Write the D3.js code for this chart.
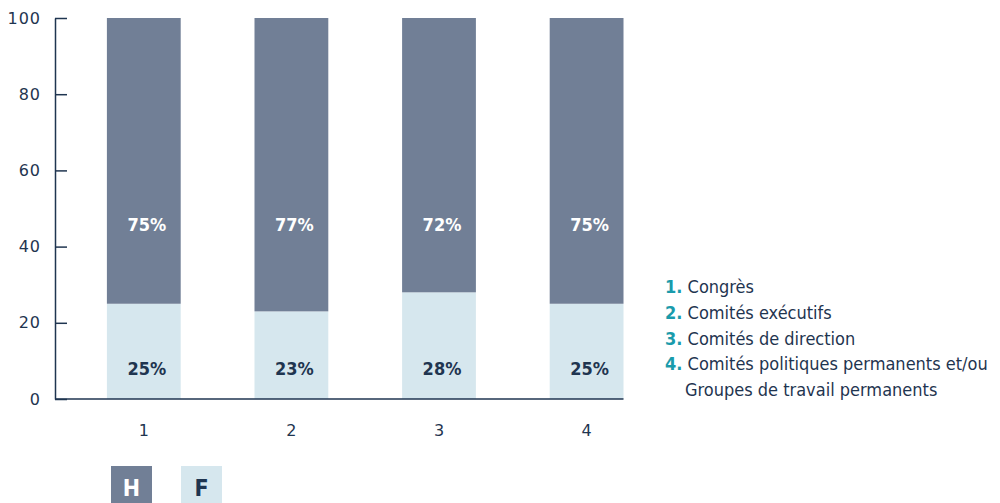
<!DOCTYPE html>
<html>
<head>
<meta charset="utf-8">
<script src="https://cdn.jsdelivr.net/npm/d3@7"></script>
<style>
body { margin: 0; background: #fff; }
svg { display: block; }
</style>
</head>
<body>
<div id="chart"></div>
<script>
var categories = ["1", "2", "3", "4"];
var hommes = [75, 77, 72, 75];
var femmes = [25, 23, 28, 25];
var yTicks = [0, 20, 40, 60, 80, 100];
var legendItems = ["Congrès", "Comités exécutifs", "Comités de direction", "Comités politiques permanents et/ou"];
var legendExtra = "Groupes de travail permanents";

var darkCol = "#717f96", lightCol = "#d6e7ee", navy = "#1f3550", teal = "#1a9bab";
var condensed = "'Liberation Sans Narrow', 'DejaVu Sans Condensed', sans-serif";

var width = 1000, height = 503;
var margin = {top: 18, left: 55};
var plotW = 570, plotH = 381;

var svg = d3.select("#chart").append("svg")
  .attr("width", width)
  .attr("height", height);

var g = svg.append("g")
  .attr("transform", "translate(" + margin.left + "," + margin.top + ")");

var x = d3.scaleBand()
  .domain(categories)
  .range([15, 15 + 147.6 * 4])
  .paddingInner(0.5)
  .paddingOuter(0.25);

var y = d3.scaleLinear()
  .domain([0, 100])
  .range([plotH, 0]);

// bars: femmes at bottom, hommes stacked on top
var data = categories.map(function(c, i) { return {cat: c, h: hommes[i], f: femmes[i]}; });

g.selectAll(".barF").data(data).enter().append("rect")
  .attr("x", function(d) { return x(d.cat); })
  .attr("y", function(d) { return y(d.f); })
  .attr("width", x.bandwidth())
  .attr("height", function(d) { return y(0) - y(d.f); })
  .style("fill", lightCol);

g.selectAll(".barH").data(data).enter().append("rect")
  .attr("x", function(d) { return x(d.cat); })
  .attr("y", function(d) { return y(d.f + d.h); })
  .attr("width", x.bandwidth())
  .attr("height", function(d) { return y(d.f) - y(d.f + d.h); })
  .style("fill", darkCol);

// percent labels
g.selectAll(".lblH").data(data).enter().append("text")
  .attr("x", function(d) { return x(d.cat) + x.bandwidth() / 2 + 3; })
  .attr("y", y(44))
  .attr("text-anchor", "middle")
  .style("font-family", condensed)
  .style("font-weight", "bold")
  .style("font-size", "18px")
  .style("fill", "#fff")
  .text(function(d) { return d.h + "%"; });

g.selectAll(".lblF").data(data).enter().append("text")
  .attr("x", function(d) { return x(d.cat) + x.bandwidth() / 2 + 3; })
  .attr("y", y(6.4))
  .attr("text-anchor", "middle")
  .style("font-family", condensed)
  .style("font-weight", "bold")
  .style("font-size", "18px")
  .style("fill", navy)
  .text(function(d) { return d.f + "%"; });

// baseline
g.append("line")
  .attr("x1", 0).attr("x2", x(categories[3]) + x.bandwidth())
  .attr("y1", y(0)).attr("y2", y(0))
  .style("stroke", navy).style("stroke-width", 1.5);

// y axis
var yAxis = d3.axisLeft(y).tickValues(yTicks).tickSize(0).tickPadding(14);
var ya = g.append("g").call(yAxis);
ya.select(".domain").style("stroke", navy).style("stroke-width", 1.5);
ya.selectAll("text")
  .style("font-family", "'DejaVu Sans', sans-serif")
  .style("font-size", "16px")
  .style("letter-spacing", "1px")
  .style("fill", navy);
ya.selectAll(".tick").append("line")
  .attr("x1", 0).attr("x2", 12)
  .style("stroke", navy).style("stroke-width", 1.5);

// x axis labels
var xAxis = d3.axisBottom(x).tickSize(0).tickPadding(26);
var xa = g.append("g").attr("transform", "translate(0," + plotH + ")").call(xAxis);
xa.select(".domain").remove();
xa.selectAll("text")
  .style("font-family", "'DejaVu Sans', sans-serif")
  .style("font-size", "16px")
  .style("fill", navy);

// category legend
var leg = svg.append("g").attr("transform", "translate(665,293)");
legendItems.forEach(function(t, i) {
  var txt = leg.append("text")
    .attr("y", i * 25.8)
    .style("font-family", condensed)
    .style("font-size", "18px")
    .style("fill", navy);
  txt.append("tspan").style("font-weight", "bold").style("fill", teal).text((i + 1) + ".");
  txt.append("tspan").text(" " + t);
});
leg.append("text")
  .attr("x", 20)
  .attr("y", 4 * 25.8)
  .style("font-family", condensed)
  .style("font-size", "18px")
  .style("fill", navy)
  .text(legendExtra);

// H / F key
var keys = [{k: "H", col: darkCol, tc: "#fff"}, {k: "F", col: lightCol, tc: navy}];
var key = svg.append("g").attr("transform", "translate(111,466)");
keys.forEach(function(d, i) {
  key.append("rect")
    .attr("x", i * 70).attr("y", 0)
    .attr("width", 41).attr("height", 40)
    .style("fill", d.col);
  key.append("text")
    .attr("x", i * 70 + 20.5).attr("y", 30)
    .attr("text-anchor", "middle")
    .style("font-family", condensed)
    .style("font-weight", "bold")
    .style("font-size", "23px")
    .style("fill", d.tc)
    .text(d.k);
});
</script>
</body>
</html>
